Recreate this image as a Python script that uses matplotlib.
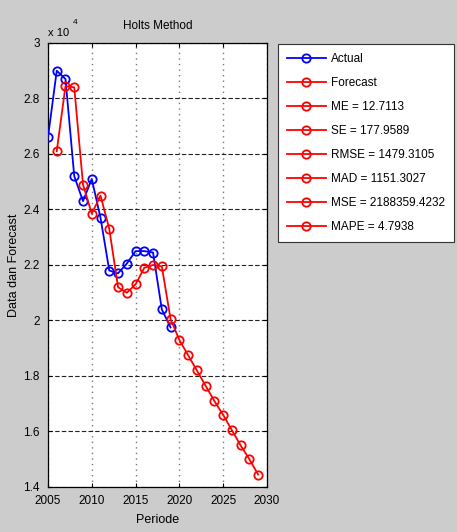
import matplotlib
matplotlib.use("Agg")
import matplotlib.pyplot as plt
from matplotlib.ticker import FixedLocator, FuncFormatter

plt.rcParams['font.family'] = ['Liberation Sans Narrow', 'Liberation Sans', 'DejaVu Sans']

# Observed series (2005-2019) and Holt's forecast (2006-2029)
actual_years = list(range(2005, 2020))
actual = [26600, 29000, 28700, 25200, 24300, 25100, 23700, 21800, 21700,
          22050, 22500, 22500, 22450, 20400, 19750]

forecast_years = list(range(2006, 2030))
forecast = [26100, 28450, 28400, 24900, 23850, 24500, 23300, 21200, 21000,
            21300, 21900, 22000, 21950, 20050, 19300, 18750, 18200, 17650,
            17100, 16600, 16050, 15500, 15000, 14450]

error_labels = ['ME = 12.7113', 'SE = 177.9589', 'RMSE = 1479.3105',
                'MAD = 1151.3027', 'MSE = 2188359.4232', 'MAPE = 4.7938']

x_ticks = [2005, 2010, 2015, 2020, 2025, 2030]
y_ticks = [14000, 16000, 18000, 20000, 22000, 24000, 26000, 28000, 30000]

bg = '#cccccc'
fig = plt.figure(figsize=(4.57, 5.32), dpi=100, facecolor=bg)
ax = fig.add_axes([0.105, 0.0846, 0.479, 0.8346])
ax.set_facecolor('white')

ax.plot(actual_years, actual, color='#0000ff', marker='o', mfc='none',
        mec='#0000ff', ms=6, mew=1.3, lw=1.3, label='Actual', zorder=3)
ax.plot(forecast_years, forecast, color='#ff0000', marker='o', mfc='none',
        mec='#ff0000', ms=6, mew=1.3, lw=1.3, label='Forecast', zorder=3)
for lab in error_labels:
    ax.plot([], [], color='#ff0000', marker='o', mfc='none', mec='#ff0000',
            ms=6, mew=1.3, lw=1.3, label=lab)

ax.set_xlim(2005, 2030)
ax.set_ylim(14000, 30000)
ax.xaxis.set_major_locator(FixedLocator(x_ticks))
ax.yaxis.set_major_locator(FixedLocator(y_ticks))
ax.yaxis.set_major_formatter(FuncFormatter(lambda v, p: f'{v / 1e4:g}'))

ax.yaxis.grid(True, linestyle=(0, (4, 2)), color='#222222', lw=0.8)
ax.xaxis.grid(True, linestyle=(0, (1, 3)), color='#777777', lw=1.0)
ax.set_axisbelow(True)

ax.tick_params(direction='in', length=3, width=0.8, labelsize=8.5,
               top=True, right=True, colors='black')
ax.tick_params(axis='y', pad=6)
ax.tick_params(axis='x', pad=6)
for s in ax.spines.values():
    s.set_linewidth(0.9)
    s.set_color('black')

ax.set_title('Holts Method', fontsize=8.5, pad=10)
ax.set_xlabel('Periode', fontsize=9, labelpad=5)
ax.set_ylabel('Data dan Forecast', fontsize=9, labelpad=2)

# Exponent marker above the y axis
ax.text(0.0, 1.012, 'x 10', transform=ax.transAxes, fontsize=8,
        ha='left', va='bottom')
ax.text(0.115, 1.038, '4', transform=ax.transAxes, fontsize=6,
        ha='left', va='bottom')

leg = fig.legend(loc='upper left', bbox_to_anchor=(278 / 457, 1 - 44 / 532),
                 fontsize=8.5, frameon=True, fancybox=False,
                 edgecolor='#333333', facecolor='white', framealpha=1,
                 borderpad=0.75, labelspacing=1.02, handlelength=3.3,
                 handletextpad=0.45, borderaxespad=0)
leg.get_frame().set_linewidth(0.8)

fig.savefig('out.png', dpi=100, facecolor=bg)
